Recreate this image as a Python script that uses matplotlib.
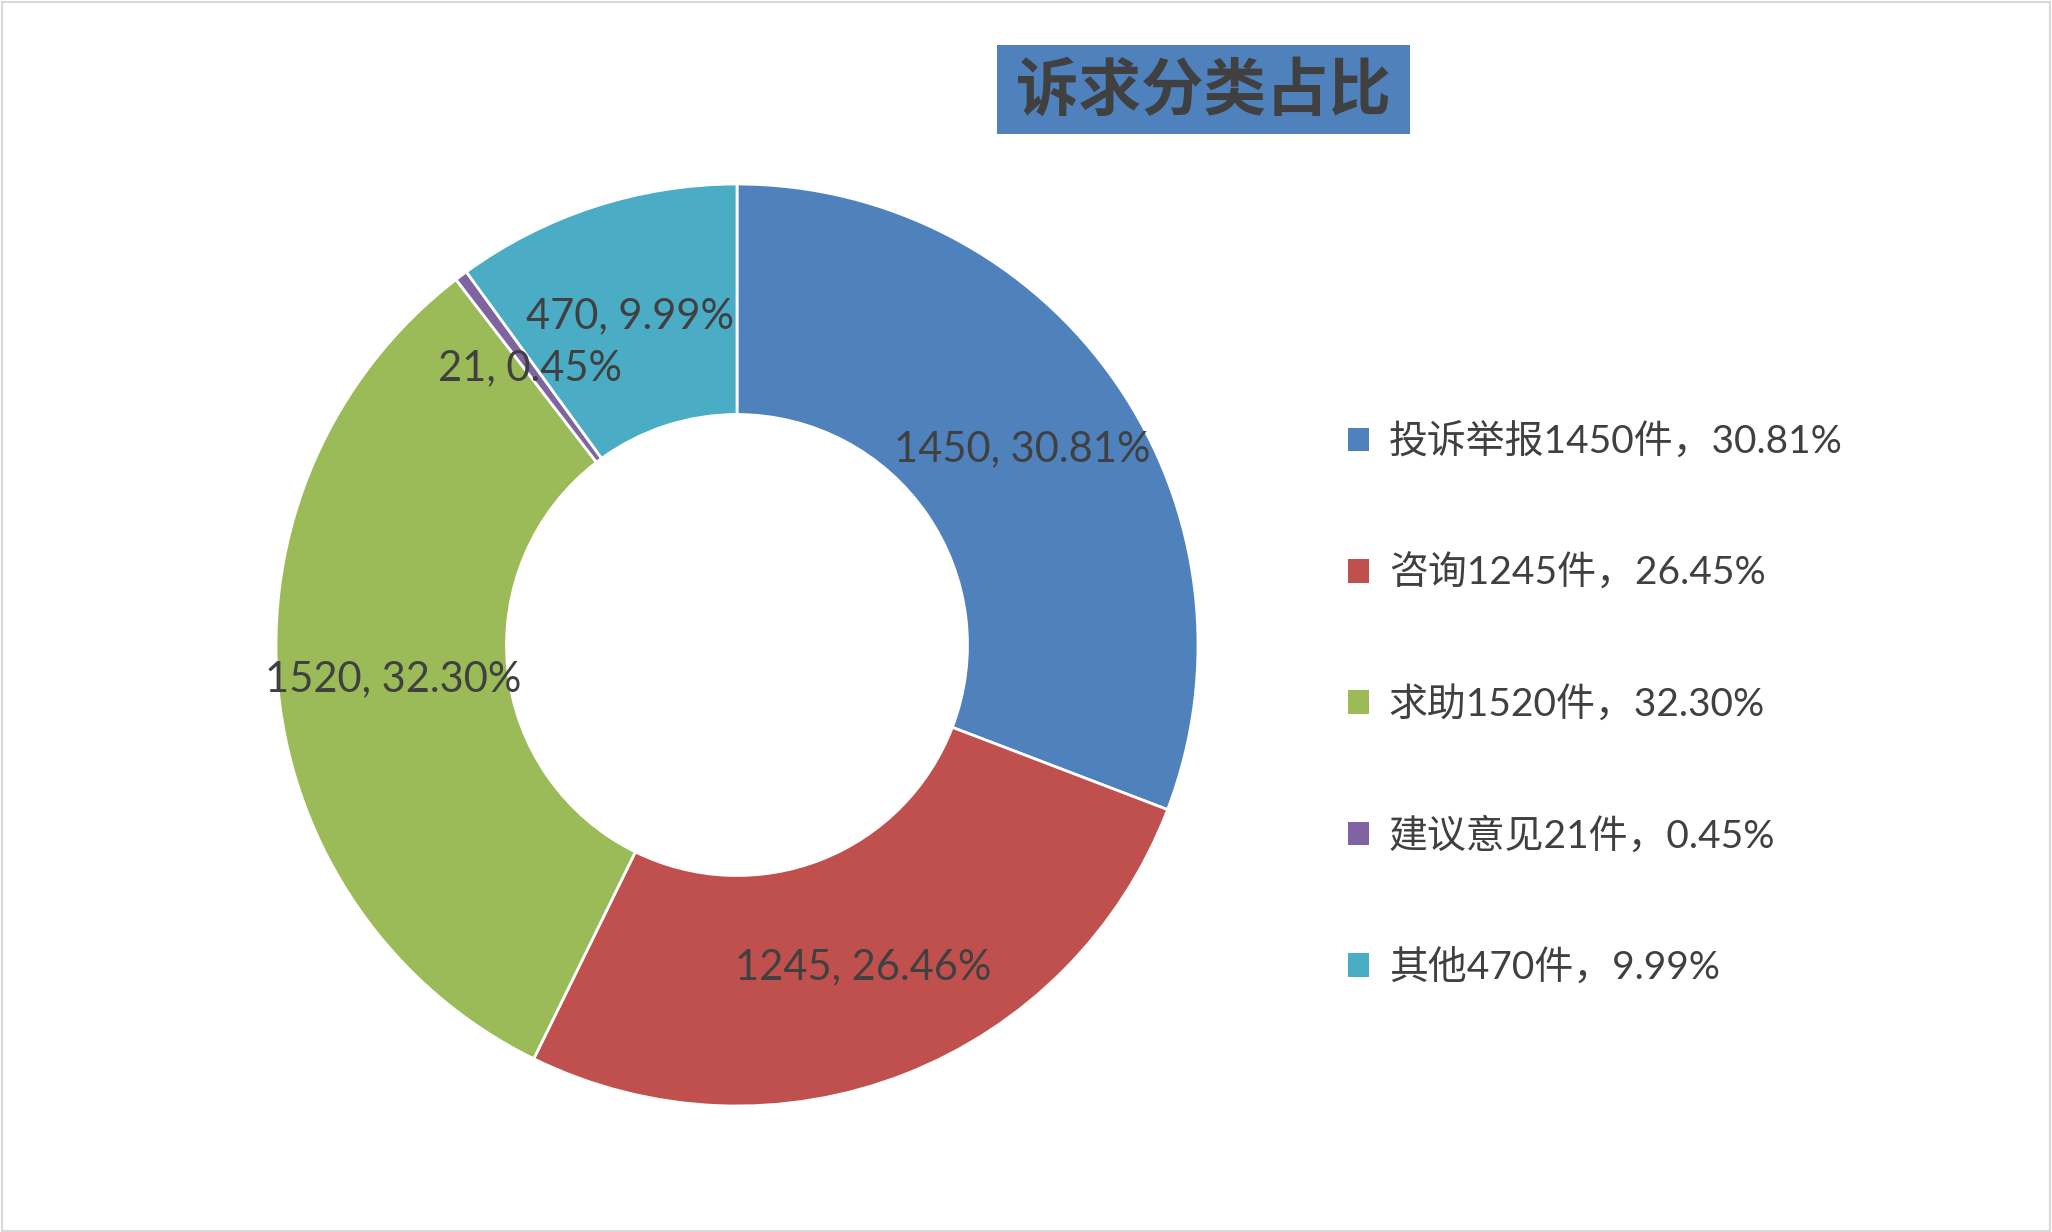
import matplotlib
matplotlib.use("Agg")
import matplotlib.pyplot as plt
from matplotlib.patches import Rectangle
import numpy as np

plt.rcParams['font.family'] = ['Lato', 'Noto Sans CJK SC', 'DejaVu Sans']

categories = ['投诉举报', '咨询', '求助', '建议意见', '其他']
counts = [1450, 1245, 1520, 21, 470]
label_pcts = ['30.81%', '26.46%', '32.30%', '0.45%', '9.99%']
legend_pcts = ['30.81%', '26.45%', '32.30%', '0.45%', '9.99%']
colors = ['#4F81BD', '#C0504D', '#9BBB59', '#8064A2', '#4BACC6']
title = '诉求分类占比'

W, H = 2052, 1232
fig = plt.figure(figsize=(W / 100, H / 100), dpi=100)
fig.patch.set_facecolor('white')

# border
fig.patches.append(Rectangle((0.001, 0.001), 0.998, 0.997, transform=fig.transFigure,
                             fill=False, edgecolor='#D9D9D9', linewidth=1.5))

cx, cy, R = 737, 645, 461
ax = fig.add_axes([(cx - R) / W, (H - cy - R) / H, 2 * R / W, 2 * R / H])
width = 0.5
wedges, _ = ax.pie(counts, colors=colors, startangle=90, counterclock=False, radius=1,
                   wedgeprops=dict(width=width, edgecolor='white', linewidth=2))
ax.set_xlim(-1, 1)
ax.set_ylim(-1, 1)
ax.set_aspect('equal')
ax.axis('off')

rmid = 1 - width / 2
for w, c, p in zip(wedges, counts, label_pcts):
    ang = np.deg2rad((w.theta1 + w.theta2) / 2)
    ax.text(rmid * np.cos(ang), rmid * np.sin(ang), f'{c}, {p}', ha='center', va='center',
            fontsize=30, color='#404040')

# title
fig.patches.append(Rectangle((997 / W, 1 - 134 / H), (1410 - 997) / W, (134 - 45) / H,
                             transform=fig.transFigure, facecolor='#4F81BD', edgecolor='none'))
fig.text(1203 / W, 1 - 91 / H, title, ha='center', va='center', fontsize=45,
         fontweight='bold', color='#404040', family=['Noto Sans CJK SC'])

legend_labels = [f'{n}{c}件，{p}' for n, c, p in zip(categories, counts, legend_pcts)]
leg = fig.legend(wedges, legend_labels, loc='upper left', bbox_to_anchor=(1348 / W, 1 - 423 / H),
                 frameon=False, fontsize=28, labelspacing=2.42, handlelength=0.55,
                 handleheight=0.55, handletextpad=0.5, borderpad=0, borderaxespad=0,
                 labelcolor='#404040')
for h in leg.legend_handles:
    h.set_edgecolor('none')

fig.savefig('out.png', dpi=100)
